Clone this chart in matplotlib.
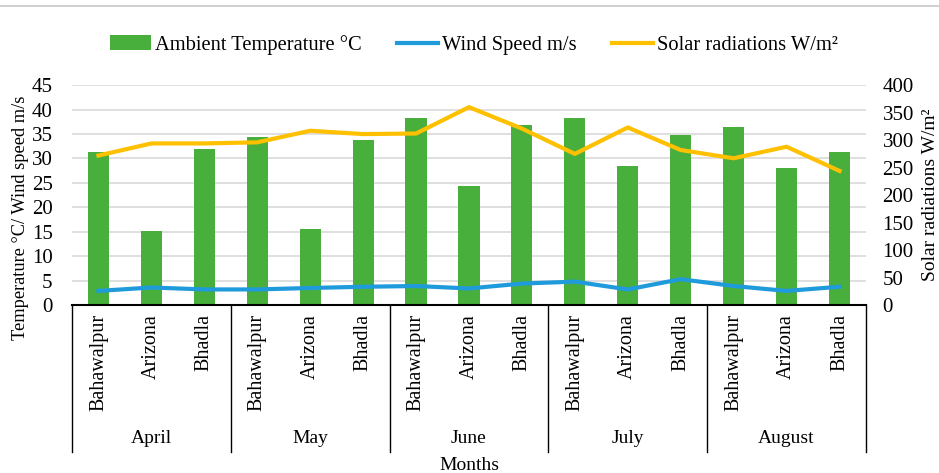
import matplotlib.pyplot as plt
from matplotlib.lines import Line2D
import numpy as np

plt.rcParams['font.family'] = ['Liberation Serif', 'DejaVu Serif']

months = ['April', 'May', 'June', 'July', 'August']
sites = ['Bahawalpur', 'Arizona', 'Bhadla']
temperature = [31.3, 15.1, 32.0, 34.3, 15.6, 33.8, 38.2, 24.3, 36.9,
               38.3, 28.5, 34.8, 36.4, 28.0, 31.3]
wind = [2.9, 3.6, 3.2, 3.2, 3.5, 3.75, 3.9, 3.4, 4.4,
        4.8, 3.2, 5.3, 3.9, 2.9, 3.75]
solar = [272, 294, 294, 296, 317, 311, 312, 360, 321,
         275, 323, 282, 267, 288, 244]

green = '#48AE3C'
blue = '#1F9BDB'
yellow = '#FFC000'

fig = plt.figure(figsize=(9.39, 4.73), dpi=100)
ax = fig.add_axes([0.0767, 0.355, 0.8455, 0.465])
ax2 = ax.twinx()

x = np.arange(len(temperature))
bars = ax.bar(x, temperature, width=0.4, color=green, label='Ambient Temperature °C', zorder=2)
wl, = ax.plot(x, wind, color=blue, lw=3, label='Wind Speed m/s', zorder=3)
sl, = ax2.plot(x, solar, color=yellow, lw=3, label='Solar radiations W/m²', zorder=3)

ax.set_xlim(-0.5, len(x) - 0.5)
ax.set_ylim(0, 45)
ax.set_yticks(range(0, 46, 5))
ax2.set_ylim(0, 400)
ax2.set_yticks(range(0, 401, 50))
ax.grid(axis='y', color='#d9d9d9', lw=1.2, zorder=0)
ax.set_axisbelow(True)
for a in (ax, ax2):
    for s in ('top', 'left', 'right', 'bottom'):
        a.spines[s].set_visible(False)
    a.tick_params(axis='y', length=0, labelsize=15)
ax.spines['bottom'].set_visible(True)
ax.spines['bottom'].set_linewidth(1.5)
ax.tick_params(axis='x', length=0, labelbottom=False)
ax.tick_params(axis='y', pad=14)
ax2.tick_params(axis='y', pad=12)

ax.set_ylabel('Temperature °C/ Wind speed m/s', fontsize=13.2)
ax.yaxis.set_label_coords(-0.054, 0.395)
ax2.set_ylabel('Solar radiations W/m²', fontsize=14)
ax2.yaxis.set_label_coords(1.0705, 0.5)

# multi-level category axis
trans = ax.get_xaxis_transform()
bottom = -0.668
for b in np.arange(-0.5, len(x), 3):
    ax.plot([b, b], [0, bottom], color='black', lw=1, transform=trans, clip_on=False)
for i in x:
    ax.text(i, -0.04, sites[i % 3], rotation=90, ha='center', va='top',
            fontsize=14.5, transform=trans)
for j, m in enumerate(months):
    ax.text(j * 3 + 1, -0.605, m, ha='center', va='center', fontsize=14, transform=trans)
ax.text(7, -0.73, 'Months', ha='center', va='center', fontsize=14, transform=trans)

fig.legend([bars, wl, sl],
           ['Ambient Temperature °C', 'Wind Speed m/s', 'Solar radiations W/m²'],
           loc='center', bbox_to_anchor=(0.505, 0.905), ncol=3,
           frameon=False, fontsize=14.8, handlelength=2.0, columnspacing=1.7,
           handletextpad=0.2)

fig.add_artist(Line2D([0, 1], [0.987, 0.987], color='#c8c8c8', lw=1.2))

fig.savefig('out.png', dpi=100)
